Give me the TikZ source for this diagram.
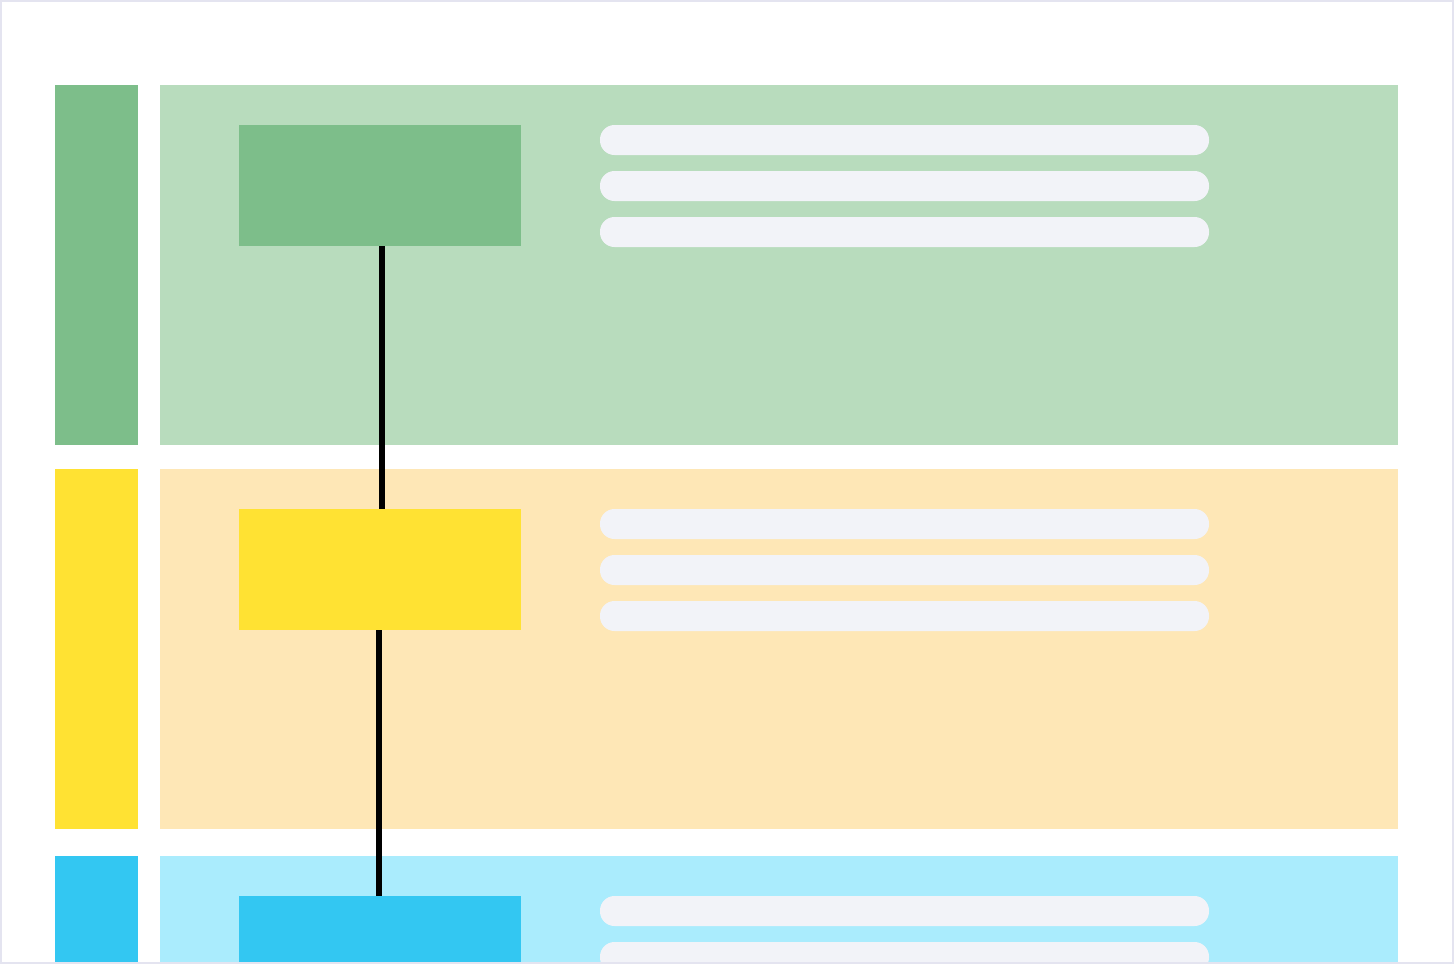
\documentclass[tikz,border=0pt]{standalone}
\usetikzlibrary{positioning}
\definecolor{gdark}{HTML}{7DBE8A}
\definecolor{glight}{HTML}{B8DCBD}
\definecolor{ydark}{HTML}{FFE233}
\definecolor{ylight}{HTML}{FEE7B6}
\definecolor{bdark}{HTML}{33C7F2}
\definecolor{blight}{HTML}{AAECFD}
\definecolor{pillgray}{HTML}{F2F3F8}
\definecolor{framegray}{HTML}{E4E4F0}
\tikzset{
  strip/.style={fill=#1, inner sep=0pt, anchor=north west,
    minimum width=83pt, minimum height=360pt},
  panel/.style={fill=#1, inner sep=0pt, anchor=north west,
    minimum width=1238pt, minimum height=360pt},
  stepbox/.style={fill=#1, inner sep=0pt, anchor=north west,
    minimum width=282pt, minimum height=121pt},
  pill/.style={fill=pillgray, rounded corners=14.5pt},
  link/.style={line width=6pt, black}
}

\begin{document}
\begin{tikzpicture}[x=1pt,y=-1pt]
  \useasboundingbox (0,0) rectangle (1454,964);
  \fill[white] (0,0) rectangle (1454,964);

  \begin{scope}
    \clip (2,2) rectangle (1452,962);
    % one row per stage
    \foreach \y/\dk/\lt/\n in {85/gdark/glight/g, 469/ydark/ylight/y, 856/bdark/blight/b}{
      \node[strip=\dk] (strip\n) at (55,\y) {};
      \node[panel=\lt] (panel\n) at (160,\y) {};
      \node[stepbox=\dk] (box\n) at (239,\y+40) {};
      \foreach \dy in {40,86,132}
        \fill[pill] (600,\y+\dy) rectangle (1209,\y+\dy+30);
    }
    % connectors between the stages
    \draw[link] ([xshift=2pt]boxg.south) -- ([xshift=2pt]boxy.north);
    \draw[link] ([xshift=-1pt]boxy.south) -- ([xshift=-1pt]boxb.north);
  \end{scope}

  \draw[framegray, line width=2pt] (1,1) rectangle (1453,963);
\end{tikzpicture}
\end{document}
